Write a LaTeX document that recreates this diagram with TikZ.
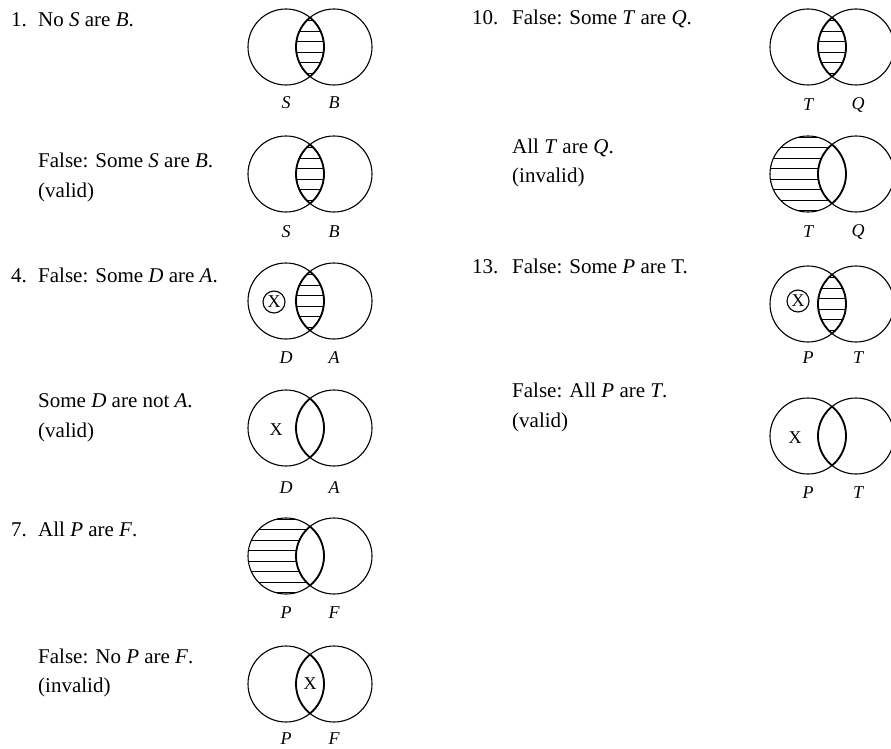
\documentclass[tikz,border=0pt]{standalone}
\usepackage{fontspec}
\setmainfont{Liberation Serif}
\usetikzlibrary{positioning}

\begin{document}
\begin{tikzpicture}[x=1bp,y=-1bp,
txt/.style={anchor=base west,inner sep=0pt,font=\fontsize{21bp}{30bp}\selectfont},
lbl/.style={inner sep=0pt,font=\fontsize{18bp}{20bp}\selectfont\itshape},
xmark/.style={inner sep=0pt,font=\fontsize{18bp}{20bp}\selectfont},
ring/.style={line width=1.1bp},
lens/.style={line width=1.8bp},
hatch/.style={line width=0.8bp}]
\useasboundingbox (0,0) rectangle (891,749);

% hatching: the overlap
\foreach \cx/\cy in {286/47,286/174,286/301,808/47,808/304}{
  \begin{scope}
    \clip (\cx,\cy) circle[radius=38];
    \clip (\cx+48,\cy) circle[radius=38];
    \foreach \dy in {-26.25,-15.75,...,27}
      \draw[hatch] (\cx,\cy+\dy) -- (\cx+48,\cy+\dy);
  \end{scope}
}
% hatching: left circle outside the overlap
\foreach \cx/\cy in {286/556,808/174}{
  \begin{scope}
    \clip (\cx,\cy) circle[radius=38];
    \foreach \dy in {-36.75,-26.25,...,37}
      \draw[hatch] (\cx-40,\cy+\dy) -- (\cx+30,\cy+\dy);
    \fill[white] (\cx+48,\cy) circle[radius=38];
  \end{scope}
}
% circles
\foreach \cx/\cy in {286/47,286/174,286/301,286/428,286/556,286/684,
                     808/47,808/174,808/304,808/436}{
  \draw[ring] (\cx,\cy) circle[radius=38] (\cx+48,\cy) circle[radius=38];
  \begin{scope}
    \clip (\cx,\cy) circle[radius=38];
    \draw[lens] (\cx+48,\cy) circle[radius=38];
  \end{scope}
  \begin{scope}
    \clip (\cx+48,\cy) circle[radius=38];
    \draw[lens] (\cx,\cy) circle[radius=38];
  \end{scope}
}

% left column
\node[txt] (n1) at (11,27) {1.};
\node[txt] (t1) at (38,27) {No \textit{S} are \textit{B}.};
\node[lbl] (s1) at (286,103) {S};
\node[lbl] (b1) at (334,103) {B};

\node[txt] (t2) at (38,167) {False: Some \textit{S} are \textit{B}.};
\node[txt] (v2) at (38,197) {(valid)};
\node[lbl] (s2) at (286,232) {S};
\node[lbl] (b2) at (334,232) {B};

\node[txt] (n4) at (11,282) {4.};
\node[txt] (t4) at (38,282) {False: Some \textit{D} are \textit{A}.};
\node[xmark,circle,draw,ring,minimum size=22bp] (x4) at (274,302) {X};
\node[lbl] (d4) at (286,358) {D};
\node[lbl] (a4) at (334,358) {A};

\node[txt] (t5) at (38,407) {Some \textit{D} are not \textit{A}.};
\node[txt] (v5) at (38,437) {(valid)};
\node[xmark] (x5) at (276,430) {X};
\node[lbl] (d5) at (286,488) {D};
\node[lbl] (a5) at (334,488) {A};

\node[txt] (n7) at (11,536) {7.};
\node[txt] (t7) at (38,536) {All \textit{P} are \textit{F}.};
\node[lbl] (p7) at (286,613) {P};
\node[lbl] (f7) at (334,613) {F};

\node[txt] (t8) at (38,663) {False: No \textit{P} are \textit{F}.};
\node[txt] (v8) at (38,692) {(invalid)};
\node[xmark] (x8) at (310,684) {X};
\node[lbl] (p8) at (286,739) {P};
\node[lbl] (f8) at (334,739) {F};

% right column
\node[txt] (n10) at (472,25) {10.};
\node[txt] (t10) at (512,25) {False: Some \textit{T} are \textit{Q}.};
\node[lbl] (p10) at (808,105) {T};
\node[lbl] (q10) at (858,105) {Q};

\node[txt] (t11) at (512,153) {All \textit{T} are \textit{Q}.};
\node[txt] (v11) at (512,182) {(invalid)};
\node[lbl] (p11) at (808,232) {T};
\node[lbl] (q11) at (858,232) {Q};

\node[txt] (n13) at (472,273) {13.};
\node[txt] (t13) at (512,273) {False: Some \textit{P} are T.};
\node[xmark,circle,draw,ring,minimum size=22bp] (x13) at (798,301) {X};
\node[lbl] (p13) at (808,358) {P};
\node[lbl] (q13) at (858,358) {T};

\node[txt] (t14) at (512,397) {False: All \textit{P} are \textit{T}.};
\node[txt] (v14) at (512,427) {(valid)};
\node[xmark] (x14) at (795,438) {X};
\node[lbl] (p14) at (808,493) {P};
\node[lbl] (q14) at (858,493) {T};
\end{tikzpicture}
\end{document}
